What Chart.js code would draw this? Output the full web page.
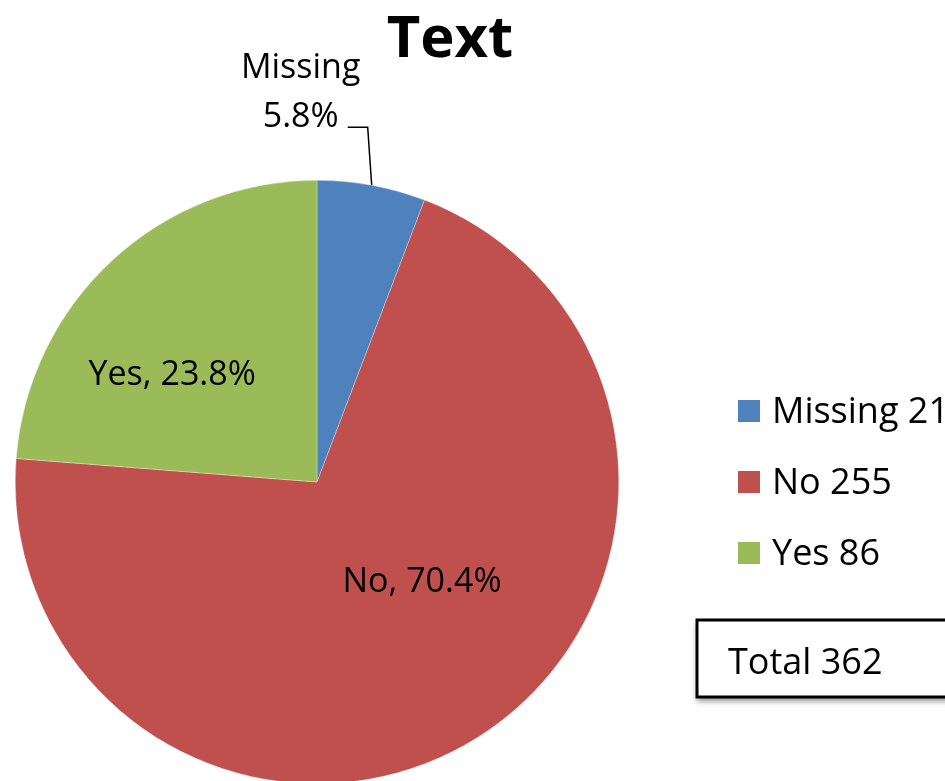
<!DOCTYPE html>
<html>
<head>
<meta charset="utf-8">
<script src="https://cdn.jsdelivr.net/npm/chart.js@4/dist/chart.umd.min.js"></script>
<style>
  html, body { margin: 0; padding: 0; background: #fff; overflow: hidden; }
  canvas { display: block; }
</style>
</head>
<body>
<canvas id="pie" width="945" height="800"></canvas>
<script>
// Answers to "Text" (counts per category)
const categories = ['Missing', 'No', 'Yes'];
const counts = [21, 255, 86];
const sliceColors = ['#4F81BD', '#C0504D', '#9BBB59'];
const chartTitle = 'Text';

// where each in-slice label sits, as a fraction of the radius from the centre
// (null = label outside with a leader line)
const labelOffsets = [null, [0.348, 0.364], [-0.480, -0.321]];

const FONT = '"Open Sans", "DejaVu Sans", sans-serif';
const total = counts.reduce((a, b) => a + b, 0);

function pct(v) {
    return (v / total * 100).toFixed(1) + '%';
}

// draws title, slice labels, legend and the total box
const annotations = {
    id: 'annotations',
    afterDatasetsDraw(chart) {
        const ctx = chart.ctx;
        const arcs = chart.getDatasetMeta(0).data;
        ctx.save();
        ctx.fillStyle = '#000';
        ctx.textBaseline = 'alphabetic';

        // 1. Title
        ctx.font = 'bold 58px ' + FONT;
        ctx.textAlign = 'center';
        ctx.fillText(chartTitle, 450, 57);

        // 2. Slice labels
        ctx.font = '34px ' + FONT;
        arcs.forEach((arc, i) => {
            const p = arc.getProps(['x', 'y', 'startAngle', 'endAngle', 'outerRadius'], true);
            const r = p.outerRadius;
            const off = labelOffsets[i];
            if (off) {
                ctx.textAlign = 'center';
                ctx.fillText(categories[i] + ', ' + pct(counts[i]), p.x + off[0] * r, p.y + off[1] * r);
                return;
            }
            // outside label with a leader line
            const mid = (p.startAngle + p.endAngle) / 2;
            const ex = p.x + Math.cos(mid) * r;
            const ey = p.y + Math.sin(mid) * r;
            ctx.strokeStyle = '#000';
            ctx.lineWidth = 1.5;
            ctx.beginPath();
            ctx.moveTo(ex, ey);
            ctx.lineTo(ex - 4, ey - 58);
            ctx.lineTo(ex - 24, ey - 58);
            ctx.stroke();
            ctx.textAlign = 'center';
            ctx.fillText(categories[i], ex - 71, ey - 107);
            ctx.fillText(pct(counts[i]), ex - 71, ey - 58);
        });

        // 3. Legend
        ctx.font = '36px ' + FONT;
        ctx.textAlign = 'left';
        categories.forEach((c, i) => {
            const cy = 411 + i * 71;
            ctx.fillStyle = sliceColors[i];
            ctx.fillRect(738, cy - 11, 22, 22);
            ctx.fillStyle = '#000';
            ctx.fillText(c + ' ' + counts[i], 772, cy + 12);
        });

        // 4. Total box with a soft shadow
        ctx.save();
        ctx.shadowColor = 'rgba(0,0,0,0.45)';
        ctx.shadowBlur = 6;
        ctx.shadowOffsetY = 4;
        ctx.fillStyle = '#fff';
        ctx.fillRect(697, 620, 260, 77);
        ctx.restore();
        ctx.strokeStyle = '#000';
        ctx.lineWidth = 3;
        ctx.strokeRect(697, 620, 260, 77);
        ctx.fillStyle = '#000';
        ctx.font = '36px ' + FONT;
        ctx.fillText('Total ' + total, 728, 674);

        ctx.restore();
    }
};

new Chart(document.getElementById('pie').getContext('2d'), {
    type: 'pie',
    data: {
        labels: categories,
        datasets: [{
            data: counts,
            backgroundColor: sliceColors,
            borderColor: 'rgba(255,255,255,0.6)',
            borderWidth: 0.5
        }]
    },
    options: {
        responsive: false,
        animation: false,
        events: [],
        layout: {
            padding: { left: 15, top: 180, right: 326, bottom: 16 }
        },
        plugins: {
            legend: { display: false },
            title: { display: false },
            tooltip: { enabled: false }
        }
    },
    plugins: [annotations]
});
</script>
</body>
</html>
